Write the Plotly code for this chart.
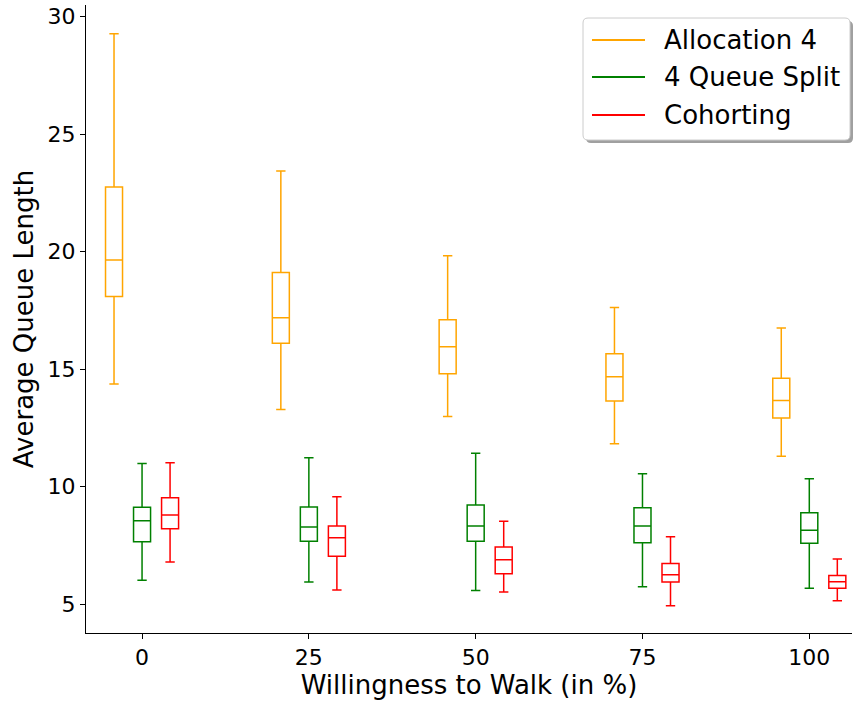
import plotly.graph_objects as go

walk = [0, 25, 50, 75, 100]
tick_labels = ["0", "25", "50", "75", "100"]

alloc_upper = [29.28, 23.43, 19.83, 17.62, 16.75]
alloc_q3 = [22.75, 19.11, 17.10, 15.66, 14.61]
alloc_med = [19.65, 17.19, 15.95, 14.68, 13.67]
alloc_q1 = [18.09, 16.10, 14.80, 13.65, 12.92]
alloc_lower = [14.37, 13.28, 12.98, 11.83, 11.29]

split_upper = [10.98, 11.23, 11.42, 10.55, 10.34]
split_q3 = [9.12, 9.13, 9.22, 9.10, 8.89]
split_med = [8.55, 8.28, 8.32, 8.32, 8.14]
split_q1 = [7.65, 7.68, 7.67, 7.61, 7.59]
split_lower = [6.01, 5.94, 5.58, 5.74, 5.68]

coh_upper = [11.02, 9.57, 8.53, 7.87, 6.92]
coh_q3 = [9.53, 8.32, 7.43, 6.73, 6.22]
coh_med = [8.79, 7.82, 6.89, 6.25, 5.95]
coh_q1 = [8.21, 7.04, 6.29, 5.94, 5.67]
coh_lower = [6.79, 5.60, 5.51, 4.93, 5.14]

series = [
    ("Allocation 4", "#FFA500", -4.2, alloc_lower, alloc_q1, alloc_med, alloc_q3, alloc_upper),
    ("4 Queue Split", "#008000", 0.0, split_lower, split_q1, split_med, split_q3, split_upper),
    ("Cohorting", "#FF0000", 4.2, coh_lower, coh_q1, coh_med, coh_q3, coh_upper),
]

W, H = 854, 702
ML, MR, MT, MB = 86, 2, 5, 69
PW, PH = W - ML - MR, H - MT - MB


def px(x):
    return (x - ML) / PW


def py(y):
    return (H - MB - y) / PH


def rrect(x0, y0, x1, y1, r):
    return (f"M{px(x0 + r)},{py(y0)} L{px(x1 - r)},{py(y0)} "
            f"Q{px(x1)},{py(y0)} {px(x1)},{py(y0 + r)} L{px(x1)},{py(y1 - r)} "
            f"Q{px(x1)},{py(y1)} {px(x1 - r)},{py(y1)} L{px(x0 + r)},{py(y1)} "
            f"Q{px(x0)},{py(y1)} {px(x0)},{py(y1 - r)} L{px(x0)},{py(y0 + r)} "
            f"Q{px(x0)},{py(y0)} {px(x0 + r)},{py(y0)} Z")


fig = go.Figure()
for name, color, off, lo, q1, med, q3, up in series:
    fig.add_trace(go.Box(
        x=[w + off for w in walk], lowerfence=lo, q1=q1, median=med, q3=q3, upperfence=up,
        width=2.55, whiskerwidth=0.55, fillcolor="rgba(0,0,0,0)",
        line=dict(color=color, width=1.5), name=name, showlegend=False,
        boxpoints=False,
    ))

# legend drawn as shapes + text
lx0, ly0, lx1, ly1 = 583, 18, 850, 140
fig.add_shape(type="path", xref="paper", yref="paper", path=rrect(lx0 + 3, ly0 + 3, lx1 + 3, ly1 + 3, 5),
              fillcolor="#a0a0a0", line=dict(width=0), layer="above")
fig.add_shape(type="path", xref="paper", yref="paper", path=rrect(lx0, ly0, lx1, ly1, 5),
              fillcolor="white", line=dict(color="#cccccc", width=1), layer="above")
row_y = [40, 77, 115]
for (name, color, *_), ry in zip(series, row_y):
    fig.add_shape(type="line", xref="paper", yref="paper", x0=px(592), x1=px(645), y0=py(ry), y1=py(ry),
                  line=dict(color=color, width=2), layer="above")
    fig.add_annotation(xref="paper", yref="paper", x=px(662), y=py(ry), text=name, showarrow=False,
                       xanchor="left", yanchor="middle", font=dict(size=26, color="black"))

fig.update_layout(
    width=W, height=H,
    margin=dict(l=ML, r=MR, t=MT, b=MB, autoexpand=False),
    plot_bgcolor="white", paper_bgcolor="white",
    font=dict(family="DejaVu Sans", size=22, color="black"),
    boxmode="overlay",
    showlegend=False,
    xaxis=dict(range=[-8.4, 106.4], tickvals=walk, ticktext=tick_labels,
               showline=True, linecolor="black", linewidth=1, mirror=False,
               ticks="outside", ticklen=5, tickcolor="black", showgrid=False, zeroline=False,
               title=dict(text="Willingness to Walk (in %)", font=dict(size=26), standoff=4)),
    yaxis=dict(range=[3.77, 30.5], tickvals=[5, 10, 15, 20, 25, 30],
               showline=True, linecolor="black", linewidth=1, mirror=False,
               ticks="outside", ticklen=5, tickcolor="black", showgrid=False, zeroline=False,
               title=dict(text="Average Queue Length", font=dict(size=26), standoff=6)),
)

fig.write_html("out.html", config={"displayModeBar": False},
               post_script="document.body.style.margin='0';")
